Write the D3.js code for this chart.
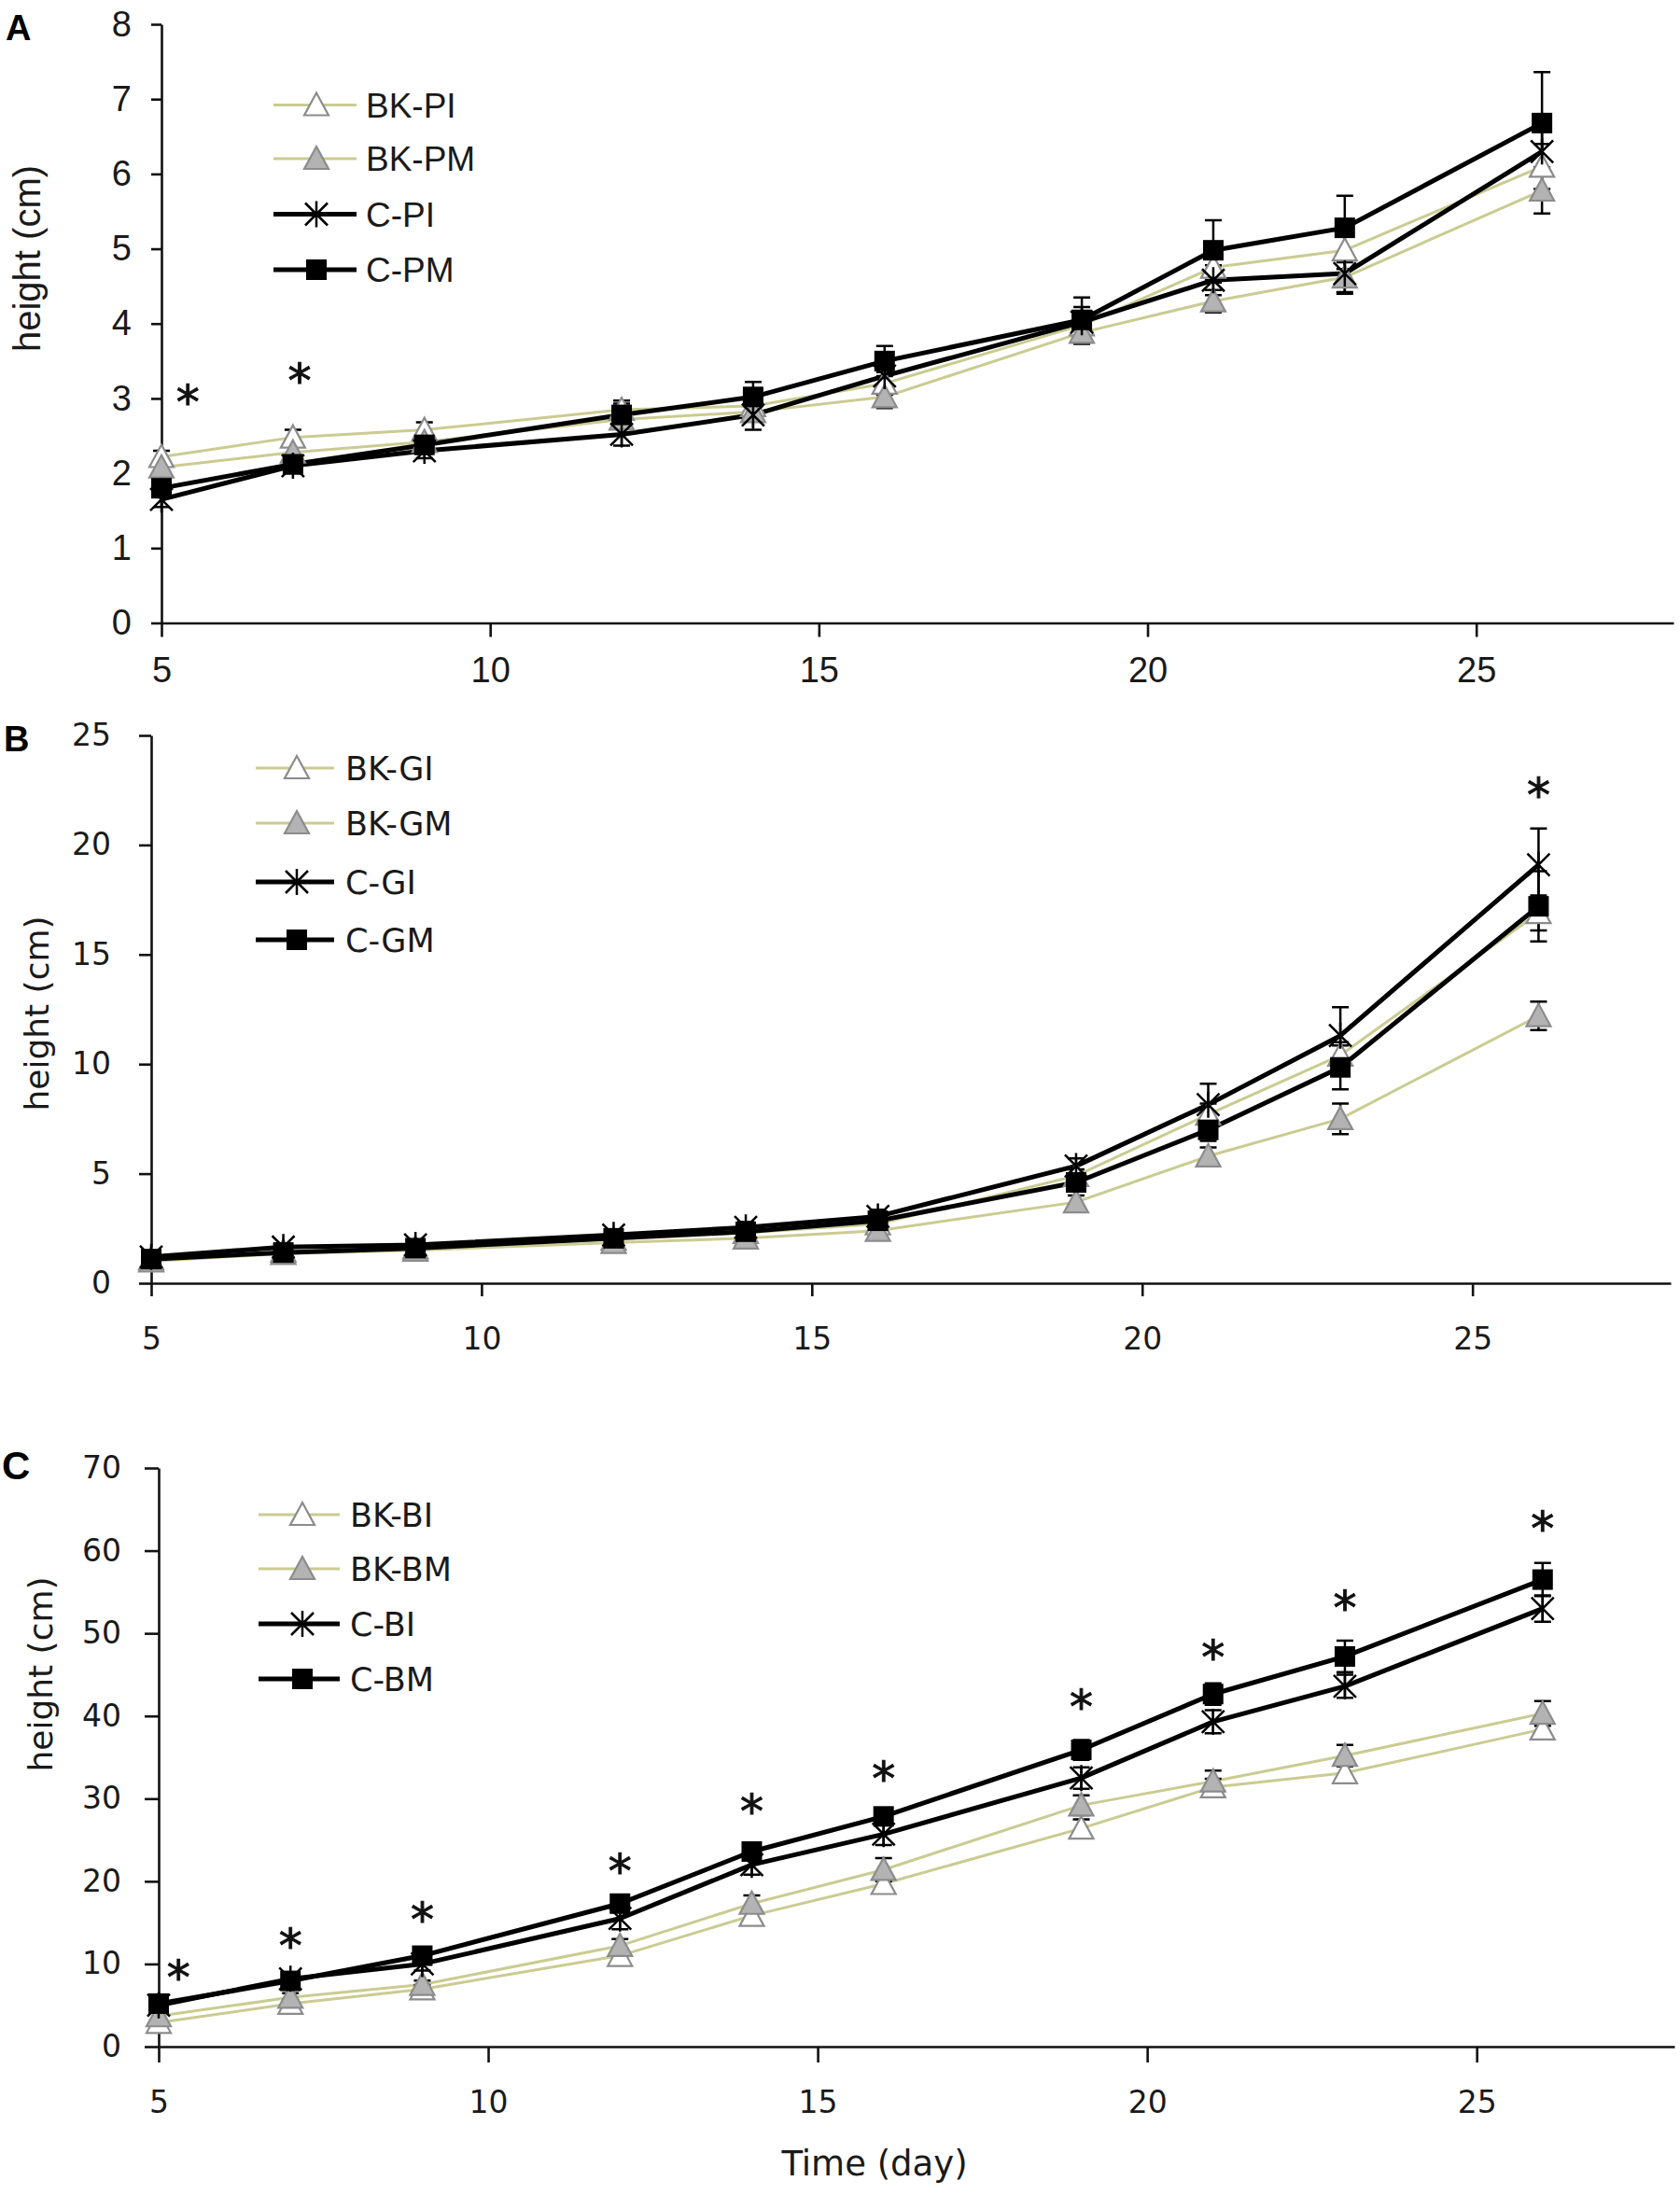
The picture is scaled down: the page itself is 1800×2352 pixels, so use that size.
<!DOCTYPE html>
<html>
<head>
<meta charset="utf-8">
<script src="https://cdn.jsdelivr.net/npm/d3@7"></script>
<style>
  body { margin: 0; background: #fff; }
</style>
</head>
<body>
<script>
// sampling days (shared by all three panels)
const days = [5, 7, 9, 12, 14, 16, 19, 21, 23, 26];
const xTicks = [5, 10, 15, 20, 25];

// ---- panel A : P series ----
const bkPI = [2.22, 2.48, 2.58, 2.85, 2.9, 3.2, 3.98, 4.75, 4.98, 6.1];
const bkPIErr = [0.08, 0.1, 0.1, 0.12, 0.12, 0.15, 0.15, 0.2, 0.25, 0.3];
const bkPM = [2.08, 2.28, 2.42, 2.72, 2.82, 3.02, 3.88, 4.3, 4.62, 5.78];
const bkPMErr = [0.08, 0.1, 0.1, 0.12, 0.12, 0.15, 0.15, 0.15, 0.2, 0.31];
const cPI = [1.65, 2.1, 2.3, 2.52, 2.78, 3.3, 4.02, 4.58, 4.67, 6.3];
const cPIErr = [0.1, 0.1, 0.1, 0.15, 0.2, 0.15, 0.2, 0.2, 0.27, 0.3];
const cPM = [1.8, 2.12, 2.38, 2.78, 3.02, 3.5, 4.05, 4.98, 5.28, 6.68];
const cPMErr = [0.1, 0.1, 0.12, 0.15, 0.2, 0.2, 0.3, 0.4, 0.43, 0.68];
const yTicksA = [0, 1, 2, 3, 4, 5, 6, 7, 8];
const sigDaysA = [5.4, 7.1];
const sigLevelA = [3.07, 3.36];

// ---- panel B : G series ----
const bkGI = [1.1, 1.45, 1.6, 2.0, 2.3, 2.7, 4.9, 7.7, 10.4, 16.9];
const bkGIErr = [0.1, 0.1, 0.1, 0.15, 0.15, 0.2, 0.3, 0.5, 0.6, 0.8];
const bkGM = [1.0, 1.35, 1.5, 1.85, 2.05, 2.4, 3.7, 5.8, 7.5, 12.2];
const bkGMErr = [0.1, 0.1, 0.1, 0.15, 0.15, 0.2, 0.3, 0.4, 0.7, 0.65];
const cGI = [1.2, 1.65, 1.75, 2.2, 2.55, 3.05, 5.35, 8.15, 11.3, 19.1];
const cGIErr = [0.15, 0.15, 0.15, 0.2, 0.25, 0.3, 0.35, 0.95, 1.3, 1.65];
const cGM = [1.1, 1.4, 1.6, 2.05, 2.35, 2.85, 4.6, 7.0, 9.85, 17.2];
const cGMErr = [0.1, 0.1, 0.1, 0.15, 0.2, 0.25, 0.3, 0.5, 1.0, 1.6];
const yTicksB = [0, 5, 10, 15, 20, 25];
const sigDaysB = [26];
const sigLevelB = [22.7];

// ---- panel C : B series ----
const bkBI = [2.9, 5.2, 6.95, 11.0, 15.85, 19.7, 26.4, 31.4, 33.1, 38.4];
const bkBIErr = [0.3, 0.5, 0.5, 0.7, 0.9, 0.8, 1.1, 1.0, 1.2, 1.2];
const bkBM = [3.7, 5.95, 7.5, 12.2, 17.3, 21.4, 29.2, 32.1, 35.2, 40.3];
const bkBMErr = [0.4, 0.5, 0.5, 0.8, 1.0, 1.4, 1.2, 1.3, 1.3, 1.5];
const cBI = [5.0, 8.2, 10.0, 15.5, 22.0, 25.7, 32.5, 39.3, 43.6, 53.0];
const cBIErr = [0.5, 0.8, 0.8, 1.3, 1.2, 1.3, 1.3, 1.4, 1.4, 1.6];
const cBM = [5.2, 7.95, 11.0, 17.3, 23.6, 27.85, 35.9, 42.65, 47.2, 56.5];
const cBMErr = [0.5, 0.6, 0.6, 0.8, 1.0, 1.0, 1.2, 1.3, 1.9, 2.0];
const yTicksC = [0, 10, 20, 30, 40, 50, 60, 70];
const sigDaysC = [5.3, 7, 9, 12, 14, 16, 19, 21, 23, 26];
const sigLevelC = [9.5, 13.3, 16.5, 22.4, 29.6, 33.5, 42.2, 48.2, 54.2, 63.8];

const W = 1800;
const H = 2352;
const khaki = '#cbcb92';
const arial = "'Liberation Sans', Arial, sans-serif";
const verdana = "'DejaVu Sans', Verdana, sans-serif";

const svg = d3
  .select('body')
  .append('svg')
  .attr('width', W)
  .attr('height', H);

const panels = [
  {
    letter: 'A', letterX: 6, letterY: 43, letterSize: 38,
    font: arial, tickFont: 38, legendFont: 37,
    left: 173, right: 1793, top: 26, bottom: 667.5, yMax: 8, yTicks: yTicksA,
    yTick: 11, yPad: 21, xTick: 15, xPad: 22,
    yLabelX: 43, yLabelY: 277, yLabelSize: 40,
    legend: { x1: 293, x2: 382, mx: 339, tx: 392, rows: [112.5, 170, 229.5, 289] },
    sigX: sigDaysA, sigY: sigLevelA,
    series: [
      { name: 'BK-PI', values: bkPI, err: bkPIErr, marker: 'triOpen' },
      { name: 'BK-PM', values: bkPM, err: bkPMErr, marker: 'triGray' },
      { name: 'C-PI', values: cPI, err: cPIErr, marker: 'star' },
      { name: 'C-PM', values: cPM, err: cPMErr, marker: 'square' },
    ],
  },
  {
    letter: 'B', letterX: 4, letterY: 805, letterSize: 38,
    font: verdana, tickFont: 33, legendFont: 35,
    left: 162, right: 1790, top: 788, bottom: 1375, yMax: 25, yTicks: yTicksB,
    yTick: 13, yPad: 30, xTick: 14, xPad: 34,
    yLabelX: 52, yLabelY: 1086, yLabelSize: 36,
    legend: { x1: 274, x2: 358, mx: 318, tx: 370, rows: [823, 882, 945, 1007] },
    sigX: sigDaysB, sigY: sigLevelB,
    series: [
      { name: 'BK-GI', values: bkGI, err: bkGIErr, marker: 'triOpen' },
      { name: 'BK-GM', values: bkGM, err: bkGMErr, marker: 'triGray' },
      { name: 'C-GI', values: cGI, err: cGIErr, marker: 'star' },
      { name: 'C-GM', values: cGM, err: cGMErr, marker: 'square' },
    ],
  },
  {
    letter: 'C', letterX: 2, letterY: 1585, letterSize: 42,
    font: verdana, tickFont: 33, legendFont: 35,
    left: 170, right: 1794, top: 1573, bottom: 2193, yMax: 70, yTicks: yTicksC,
    yTick: 15, yPad: 25, xTick: 17, xPad: 31,
    yLabelX: 56, yLabelY: 1794, yLabelSize: 36,
    legend: { x1: 277, x2: 364, mx: 324, tx: 375, rows: [1623, 1681, 1740, 1799] },
    sigX: sigDaysC, sigY: sigLevelC,
    series: [
      { name: 'BK-BI', values: bkBI, err: bkBIErr, marker: 'triOpen' },
      { name: 'BK-BM', values: bkBM, err: bkBMErr, marker: 'triGray' },
      { name: 'C-BI', values: cBI, err: cBIErr, marker: 'star' },
      { name: 'C-BM', values: cBM, err: cBMErr, marker: 'square' },
    ],
  },
];

const isBK = (s) => s.marker === 'triOpen' || s.marker === 'triGray';

// Excel-like markers
const drawMarker = (g, type, cx, cy) => {
  if (type === 'triOpen' || type === 'triGray') {
    g.append('path')
      .attr('d', `M${cx},${cy - 13}L${cx + 13},${cy + 11}L${cx - 13},${cy + 11}Z`)
      .attr('fill', type === 'triOpen' ? '#ffffff' : '#b3b3b3')
      .attr('stroke', '#8c8c8c')
      .attr('stroke-width', 2.2);
  } else if (type === 'star') {
    const r = 12;
    g.append('path')
      .attr(
        'd',
        `M${cx - r},${cy - r}L${cx + r},${cy + r}M${cx + r},${cy - r}L${cx - r},${cy + r}M${cx},${cy - r - 2}L${cx},${cy + r + 2}`
      )
      .attr('stroke', '#000')
      .attr('stroke-width', 2.5)
      .attr('fill', 'none');
  } else {
    g.append('rect')
      .attr('x', cx - 11)
      .attr('y', cy - 11)
      .attr('width', 22)
      .attr('height', 22)
      .attr('fill', '#000');
  }
};

const drawPanel = (p) => {
  const g = svg.append('g');

  const xScale = d3.scaleLinear().domain([5, 28]).range([p.left, p.right]);
  const yScale = d3.scaleLinear().domain([0, p.yMax]).range([p.bottom, p.top]);

  const xAxis = d3
    .axisBottom(xScale)
    .tickValues(xTicks)
    .tickSize(p.xTick)
    .tickSizeOuter(0)
    .tickPadding(p.xPad)
    .tickFormat(d3.format('d'));
  const yAxis = d3
    .axisLeft(yScale)
    .tickValues(p.yTicks)
    .tickSize(p.yTick)
    .tickSizeOuter(0)
    .tickPadding(p.yPad)
    .tickFormat(d3.format('d'));

  [
    g.append('g').attr('transform', `translate(0,${p.bottom})`).call(xAxis),
    g.append('g').attr('transform', `translate(${p.left},0)`).call(yAxis),
  ].forEach((ax) => {
    ax.selectAll('path, line').attr('stroke', '#111').attr('stroke-width', 2.6);
    ax.selectAll('text')
      .attr('fill', '#1a1a1a')
      .style('font-family', p.font)
      .style('font-size', `${p.tickFont}px`);
  });

  // y-axis title
  g.append('text')
    .attr('transform', `translate(${p.yLabelX},${p.yLabelY}) rotate(-90)`)
    .attr('text-anchor', 'middle')
    .attr('fill', '#1a1a1a')
    .style('font-family', p.font)
    .style('font-size', `${p.yLabelSize}px`)
    .text('height (cm)');

  // panel letter
  g.append('text')
    .attr('x', p.letterX)
    .attr('y', p.letterY)
    .attr('fill', '#000')
    .style('font-family', arial)
    .style('font-weight', 'bold')
    .style('font-size', `${p.letterSize}px`)
    .text(p.letter);

  const line = d3
    .line()
    .x((d) => xScale(d[0]))
    .y((d) => yScale(d[1]));

  // lines
  p.series.forEach((s) => {
    g.append('path')
      .datum(days.map((d, i) => [d, s.values[i]]))
      .attr('d', line)
      .attr('fill', 'none')
      .attr('stroke', isBK(s) ? khaki : '#000')
      .attr('stroke-width', isBK(s) ? 3 : 5)
      .attr('stroke-linejoin', 'round');
  });

  // error bars
  p.series.forEach((s) => {
    days.forEach((d, i) => {
      const cx = xScale(d);
      const lo = yScale(s.values[i] - s.err[i]);
      const hi = yScale(s.values[i] + s.err[i]);
      g.append('path')
        .attr('d', `M${cx},${lo}V${hi}M${cx - 9},${hi}H${cx + 9}M${cx - 9},${lo}H${cx + 9}`)
        .attr('stroke', '#000')
        .attr('stroke-width', 2.5)
        .attr('fill', 'none');
    });
  });

  // markers
  p.series.forEach((s) => {
    days.forEach((d, i) => drawMarker(g, s.marker, xScale(d), yScale(s.values[i])));
  });

  // significance asterisks
  p.sigX.forEach((d, i) => {
    g.append('text')
      .attr('x', xScale(d))
      .attr('y', yScale(p.sigY[i]) + 27)
      .attr('text-anchor', 'middle')
      .attr('fill', '#111')
      .attr('stroke', '#111')
      .attr('stroke-width', 1)
      .style('font-family', verdana)
      .style('font-size', '50px')
      .text('*');
  });

  // legend
  const lg = g.append('g');
  p.series.forEach((s, i) => {
    const ly = p.legend.rows[i];
    lg.append('line')
      .attr('x1', p.legend.x1)
      .attr('x2', p.legend.x2)
      .attr('y1', ly)
      .attr('y2', ly)
      .attr('stroke', isBK(s) ? khaki : '#000')
      .attr('stroke-width', isBK(s) ? 3 : 5);
    drawMarker(lg, s.marker, p.legend.mx, ly);
    lg.append('text')
      .attr('x', p.legend.tx)
      .attr('y', ly)
      .attr('dy', '0.36em')
      .attr('fill', '#1a1a1a')
      .style('font-family', p.font)
      .style('font-size', `${p.legendFont}px`)
      .text(s.name);
  });
};

panels.forEach(drawPanel);

// shared x-axis title under panel C
svg
  .append('text')
  .attr('x', 937)
  .attr('y', 2331)
  .attr('text-anchor', 'middle')
  .attr('fill', '#1a1a1a')
  .style('font-family', verdana)
  .style('font-size', '37px')
  .text('Time (day)');
</script>
</body>
</html>
